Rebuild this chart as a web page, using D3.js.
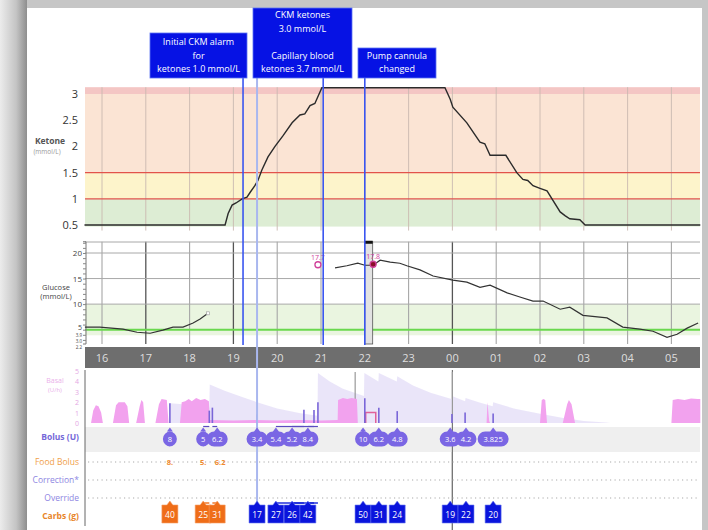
<!DOCTYPE html>
<html lang="en">
<head>
<meta charset="UTF-8">
<title>CKM ketone and glucose report</title>
<script src="https://d3js.org/d3.v7.min.js"></script>
<style>
  body { margin: 0; background: #fff; }
  svg { display: block; font-family: "Open Sans", "Liberation Sans", sans-serif; }
</style>
</head>
<body>
<svg id="chart" width="708" height="530"></svg>
<script>
// ---- data (times are hours from midnight of day 1; 24+ = next day) ----
const hourTicks = [16, 17, 18, 19, 20, 21, 22, 23, 24, 25, 26, 27, 28, 29];

const ketoneTicks = [0.5, 1, 1.5, 2, 2.5, 3];
const ketoneTimes = [15.6, 18.81, 18.88, 18.97, 19.06, 19.2, 19.31, 19.38, 19.49, 19.56, 19.65, 19.79, 19.95, 20.13, 20.34, 20.52, 20.63, 20.75, 20.86, 21.02,
  23.83, 23.95, 24.01, 24.33, 24.63, 24.74, 24.86, 25.22, 25.47, 25.61, 25.72, 25.84, 26.0, 26.16, 26.46, 26.57, 26.68, 26.91, 27.03, 29.66];
const ketoneValues = [0.5, 0.5, 0.72, 0.88, 0.92, 1.0, 1.03, 1.12, 1.25, 1.35, 1.55, 1.8, 2.0, 2.2, 2.45, 2.6, 2.62, 2.78, 2.82, 3.12,
  3.12, 2.9, 2.75, 2.45, 2.08, 2.05, 1.83, 1.83, 1.5, 1.37, 1.35, 1.25, 1.2, 1.15, 0.75, 0.68, 0.62, 0.6, 0.5, 0.5];

const glucoseMainTicks = [20, 15, 10, 5];
const glucoseLowTicks = ["3.9", "3.0", "2.2"];
const glucoseTimes = [15.61, 15.95, 16.48, 16.8, 17.1, 17.39, 17.62, 17.85, 18.08, 18.24, 18.42, 18.43,
  21.32, 21.59, 21.84, 22.0, 22.19, 22.35, 22.58, 22.8, 22.96, 23.26, 23.56, 24.01, 24.33, 24.63, 24.86, 25.25, 25.54,
  25.84, 26.07, 26.46, 26.68, 26.98, 27.53, 27.89, 28.28, 28.58, 28.9, 29.13, 29.36, 29.61];
const glucoseValues = [5.5, 5.5, 5.1, 4.5, 4.3, 4.9, 5.5, 5.5, 6.3, 7.1, 8.2, null,
  17.1, 17.5, 18.0, 17.6, 17.6, 18.6, 18.2, 18.0, 17.5, 16.7, 15.5, 14.7, 14.3, 13.3, 13.7, 12.2, 11.4,
  10.6, 10.6, 9.0, 9.4, 7.8, 7.3, 5.5, 5.1, 4.7, 3.5, 4.1, 5.3, 6.3];
const fingerstickTimes = [20.93, 22.19];
const fingerstickValues = [17.7, 17.8];
const darkHourLines = [17, 19, 24];

const basalTicks = [0, 1, 2, 3, 4, 5];
const basalTimes = [15.75, 15.8, 15.86, 15.92, 15.98, 16.02, 16.25, 16.32, 16.38, 16.52, 16.58, 16.62,
  16.78, 16.86, 16.9, 16.94, 16.98, 17.22, 17.3, 17.36, 17.48, 17.52, 17.78, 17.82, 17.9, 17.98, 18.05, 18.15, 18.25, 18.35, 18.44,
  18.46, 19.0, 19.5, 20.0, 20.5, 21.0, 21.38, 21.39, 21.5, 21.6, 21.7, 21.82, 21.84, 24.78, 24.8, 24.84, 24.86,
  26.0, 26.04, 26.08, 26.12, 26.16, 26.52, 26.62, 26.66, 26.72, 26.8, 29.0, 29.03, 29.15, 29.3, 29.45, 29.6, 29.66];
const basalRates = [0, 1.2, 1.7, 1.6, 1.0, 0, 0, 1.7, 2.0, 2.0, 1.6, 0,
  0, 1.6, 2.2, 2.0, 0, 0, 1.8, 2.3, 2.2, 0, 0, 2.0, 2.1, 2.3, 2.1, 2.4, 2.2, 2.3, 2.1,
  0.3, 0.25, 0.3, 0.25, 0.3, 0.25, 0.3, 2.2, 2.4, 2.3, 2.4, 2.3, 0, 0, 2.0, 0.2, 0,
  0, 2.2, 2.3, 2.2, 0, 0, 1.8, 2.2, 1.8, 0, 0, 2.2, 2.3, 2.2, 2.35, 2.3, 2.3];
const tempBasal = { start: 22.02, end: 22.25, rate: 1.0 };
const iobTimes = [17.55, 17.55, 18.0, 18.45, 18.46, 18.8, 19.2, 19.54, 20.0, 20.5, 20.92, 20.93, 21.2, 21.5, 21.98, 21.99,
  22.31, 22.32, 22.73, 22.74, 23.1, 23.5, 23.98, 23.99, 24.29, 24.3, 24.6, 24.92, 24.93, 25.4, 26.0, 26.5, 27.0, 27.5, 27.6];
const iobValues = [0, 1.9, 1.75, 1.5, 3.7, 3.1, 2.5, 2.0, 1.4, 0.95, 0.7, 4.8, 4.0, 3.3, 2.6, 4.8,
  4.0, 4.8, 4.0, 4.5, 3.6, 2.9, 2.3, 2.6, 2.1, 2.4, 2.0, 1.6, 2.0, 1.4, 0.9, 0.5, 0.2, 0.05, 0];
const basalEventLines = [21.78, 24];

const bolusUnits = [8, 5, 6.2, 3.4, 5.4, 5.2, 8.4, 10, 6.2, 4.8, 3.6, 4.2, 3.825];
const bolusEntryTimes = [17.55, 18.31, 18.63, 19.54, 19.97, 20.34, 20.7, 21.96, 22.32, 22.74, 23.95, 24.31, 24.93];
const bolusDeliveryTimes = [17.55, 18.45, 18.52, 19.54, 20.61, 20.84, 20.93, 22.0, 22.32, 22.74, 23.99, 24.29, 24.93];
const carbGrams = [40, 25, 31, 17, 27, 26, 42, 50, 31, 24, 19, 22, 20];
const carbIsFoodBolus = [true, true, true, false, false, false, false, false, false, false, false, false, false];
const foodBolusLabels = ["8.", "5.", "6.2"];

const annotations = [
  { time: 19.22, lines: ["Initial CKM alarm", "for", "ketones 1.0 mmol/L"], color: "#3a55f0" },
  { time: 21.05, lines: ["CKM ketones", "3.0 mmol/L", "", "Capillary blood", "ketones 3.7 mmol/L"], color: "#3a55f0" },
  { time: 22.0, lines: ["Pump cannula", "changed"], color: "#3a55f0" }
];
const capillaryTime = 19.54;

// ---- layout ----
const svg = d3.select("#chart");
const left = 85, right = 700;

const x = d3.scaleLinear().domain([16, 29]).range([102, 671.4]);
const yK = d3.scaleLinear().domain([0.5, 3]).range([225, 94]);
const yG = d3.scaleLinear().domain([2.2, 20]).range([344, 253]);
const yB = d3.scaleLinear().domain([0, 5]).range([423, 371]);

// screenshot frame
const defs = svg.append("defs");
const lg = defs.append("linearGradient").attr("id", "leftEdge");
lg.append("stop").attr("offset", "0%").attr("stop-color", "#ececec");
lg.append("stop").attr("offset", "60%").attr("stop-color", "#c4c4c4");
lg.append("stop").attr("offset", "100%").attr("stop-color", "#8e8e8e");
svg.append("rect").attr("width", 708).attr("height", 530).attr("fill", "#c6c6c6");
svg.append("rect").attr("width", 27).attr("height", 530).attr("fill", "url(#leftEdge)");
svg.append("rect").attr("x", 27).attr("y", 8).attr("width", 675).attr("height", 522).attr("fill", "#fff");

// ---- ketone panel ----
const kTop = 3.13, kBot = 0.47;
const kBands = [
  { from: 3.0, to: kTop, color: "#f4c6c4" },
  { from: 1.5, to: 3.0, color: "#fbe4d4" },
  { from: 1.0, to: 1.5, color: "#fdf4cb" },
  { from: kBot, to: 1.0, color: "#ddedd4" }
];
svg.selectAll(".kband").data(kBands).enter().append("rect")
  .attr("x", left).attr("width", right - left)
  .attr("y", d => yK(d.to)).attr("height", d => yK(d.from) - yK(d.to))
  .attr("fill", d => d.color);
svg.selectAll(".kgrid").data(hourTicks).enter().append("line")
  .attr("x1", d => x(d)).attr("x2", d => x(d))
  .attr("y1", yK(kTop)).attr("y2", yK(kBot) + 4)
  .attr("stroke", "#c9b9b0").attr("stroke-width", 0.9);
svg.selectAll(".kred").data([1.5, 1.0]).enter().append("line")
  .attr("x1", left).attr("x2", right)
  .attr("y1", d => yK(d)).attr("y2", d => yK(d))
  .attr("stroke", "#e2534b").attr("stroke-width", 1.3);
svg.selectAll(".ktick").data(ketoneTicks).enter().append("text")
  .attr("x", 78).attr("y", d => yK(d) + 4)
  .attr("text-anchor", "end").attr("font-size", 11).attr("fill", "#333")
  .text(d => d);
svg.append("text").attr("x", 50).attr("y", 144).attr("text-anchor", "middle")
  .attr("font-size", 8.5).attr("font-weight", "bold").attr("fill", "#555").text("Ketone");
svg.append("text").attr("x", 47).attr("y", 154).attr("text-anchor", "middle")
  .attr("font-size", 6.5).attr("fill", "#999").text("(mmol/L)");
svg.append("path")
  .datum(ketoneTimes.map((t, i) => [t, ketoneValues[i]]))
  .attr("fill", "none").attr("stroke", "#2b2b2b").attr("stroke-width", 1.4)
  .attr("d", d3.line().x(d => x(d[0])).y(d => yK(d[1])));

// ---- glucose panel ----
const gTop = 22.2;
svg.append("rect").attr("x", left).attr("width", right - left)
  .attr("y", yG(10)).attr("height", yG(3.9) - yG(10)).attr("fill", "#eaf5e0");
svg.selectAll(".ggrid").data(hourTicks).enter().append("line")
  .attr("x1", d => x(d)).attr("x2", d => x(d))
  .attr("y1", yG(gTop)).attr("y2", yG(2.2))
  .attr("stroke", d => darkHourLines.includes(d) ? "#555" : "#a6a6a6")
  .attr("stroke-width", d => darkHourLines.includes(d) ? 1.3 : 1.1);
svg.selectAll(".ghl").data([gTop - 0.05, 20, 15, 10]).enter().append("line")
  .attr("x1", left).attr("x2", right)
  .attr("y1", d => yG(d)).attr("y2", d => yG(d))
  .attr("stroke", "#a8a8a8").attr("stroke-width", 1);
svg.append("line").attr("x1", left).attr("x2", right)
  .attr("y1", yG(5)).attr("y2", yG(5))
  .attr("stroke", "#6ad84e").attr("stroke-width", 2);
// axis with minor ticks
const gAxis = d3.axisLeft(yG).tickValues(d3.range(3, 23, 1)).tickSize(3).tickFormat("");
svg.append("g").attr("transform", `translate(${left + 1},0)`).call(gAxis)
  .call(g => g.select(".domain").attr("stroke", "#777").attr("d", `M-3,${yG(gTop)}H0V${yG(2.2)}H-3`))
  .call(g => g.selectAll(".tick line").attr("stroke", "#888"));
svg.selectAll(".gtick").data(glucoseMainTicks).enter().append("text")
  .attr("x", 82).attr("y", d => yG(d) + (d === 5 ? 0.5 : 3))
  .attr("text-anchor", "end").attr("font-size", d => d === 5 ? 7 : 8).attr("fill", "#444")
  .text(d => d);
// the low thresholds are packed tightly under "5", as in the source report
svg.selectAll(".glow").data(glucoseLowTicks).enter().append("text")
  .attr("x", 82).attr("y", (d, i) => 336.8 + i * 6.3)
  .attr("text-anchor", "end").attr("font-size", 4.5).attr("fill", "#444")
  .text(d => d);
svg.append("text").attr("x", 56).attr("y", 290).attr("text-anchor", "middle")
  .attr("font-size", 7.5).attr("fill", "#444").text("Glucose");
svg.append("text").attr("x", 56).attr("y", 299).attr("text-anchor", "middle")
  .attr("font-size", 7.5).attr("fill", "#444").text("(mmol/L)");
// pump cannula marker
svg.append("rect").attr("x", x(22.0)).attr("width", x(22.18) - x(22.0))
  .attr("y", yG(gTop)).attr("height", yG(2.2) - yG(gTop))
  .attr("fill", "#e2e2e2").attr("stroke", "#555").attr("stroke-width", 0.8);
svg.append("rect").attr("x", x(22.0)).attr("width", x(22.18) - x(22.0))
  .attr("y", yG(gTop) - 1).attr("height", 3).attr("fill", "#111");
svg.append("path")
  .datum(glucoseTimes.map((t, i) => [t, glucoseValues[i]]))
  .attr("fill", "none").attr("stroke", "#333").attr("stroke-width", 1.2)
  .attr("d", d3.line().defined(d => d[1] !== null).x(d => x(d[0])).y(d => yG(d[1])));
svg.append("rect").attr("x", x(18.42) - 1.5).attr("y", yG(8.2) - 1.5).attr("width", 3).attr("height", 3)
  .attr("fill", "#fff").attr("stroke", "#999").attr("stroke-width", 0.6);
fingerstickTimes.forEach((t, i) => {
  svg.append("circle").attr("cx", x(t)).attr("cy", yG(fingerstickValues[i])).attr("r", 3)
    .attr("fill", i === 0 ? "#fff" : "#8a0f2a").attr("stroke", "#d0409a").attr("stroke-width", 1.3);
  svg.append("text").attr("x", x(t)).attr("y", yG(fingerstickValues[i]) - 5)
    .attr("text-anchor", "middle").attr("font-size", 7).attr("fill", "#d0409a")
    .text(fingerstickValues[i]);
});

// ---- day/event line through lower rows ----
svg.append("line").attr("x1", x(24)).attr("x2", x(24)).attr("y1", 370).attr("y2", 530)
  .attr("stroke", "#777").attr("stroke-width", 1.2);

// ---- hour band ----
svg.append("rect").attr("x", left).attr("y", 347).attr("width", right - left).attr("height", 21).attr("fill", "#6e6e6e");
svg.selectAll(".hlabel").data(hourTicks).enter().append("text")
  .attr("x", d => x(d)).attr("y", 362)
  .attr("text-anchor", "middle").attr("font-size", 11).attr("fill", "#dedede")
  .text(d => String(d % 24).padStart(2, "0"));

// ---- basal panel ----
svg.append("path")
  .datum(iobTimes.map((t, i) => [t, iobValues[i]]))
  .attr("fill", "#e9e4f9").attr("opacity", 0.95)
  .attr("d", d3.area().x(d => x(d[0])).y0(yB(0)).y1(d => yB(d[1])));
svg.selectAll(".bev").data(basalEventLines).enter().append("line")
  .attr("x1", d => x(d)).attr("x2", d => x(d)).attr("y1", 372).attr("y2", d => d === 24 ? 423 : 410)
  .attr("stroke", "#999").attr("stroke-width", 1.2);
svg.append("path")
  .datum(basalTimes.map((t, i) => [t, basalRates[i]]))
  .attr("fill", "#f2a2ee")
  .attr("d", d3.area().x(d => x(d[0])).y0(yB(0)).y1(d => yB(d[1])));
svg.append("path")
  .attr("d", `M${x(tempBasal.start)},${yB(0)}V${yB(tempBasal.rate)}H${x(tempBasal.end)}V${yB(0)}`)
  .attr("fill", "none").attr("stroke", "#e0609a").attr("stroke-width", 1.5);
svg.selectAll(".bbar").data(bolusUnits).enter().append("line")
  .attr("x1", (d, i) => x(bolusDeliveryTimes[i])).attr("x2", (d, i) => x(bolusDeliveryTimes[i]))
  .attr("y1", yB(0)).attr("y2", d => yB(d / 4.2))
  .attr("stroke", "#7a66d8").attr("stroke-width", 1.6);
svg.selectAll(".btick").data(basalTicks).enter().append("text")
  .attr("x", 79).attr("y", d => yB(d) + 3)
  .attr("text-anchor", "end").attr("font-size", 7).attr("fill", "#e4a8e4")
  .text(d => d);
svg.append("text").attr("x", 55).attr("y", 383).attr("text-anchor", "middle")
  .attr("font-size", 7).attr("fill", "#eab0ea").text("Basal");
svg.append("text").attr("x", 55).attr("y", 392).attr("text-anchor", "middle")
  .attr("font-size", 6).attr("fill", "#eab0ea").text("(U/h)");

// ---- bolus / rows ----
svg.append("rect").attr("x", left).attr("y", 427).attr("width", right - left).attr("height", 25).attr("fill", "#efefef");
svg.append("line").attr("x1", x(24)).attr("x2", x(24)).attr("y1", 427).attr("y2", 530)
  .attr("stroke", "#777").attr("stroke-width", 1.2);

// capillary blood line (light) and annotation lines
svg.append("line").attr("x1", x(capillaryTime)).attr("x2", x(capillaryTime)).attr("y1", 78).attr("y2", 505)
  .attr("stroke", "#a9b7ef").attr("stroke-width", 2);

const rowLabels = [
  { y: 440, text: "Bolus (U)", color: "#7569d8", bold: true },
  { y: 465, text: "Food Bolus", color: "#f0a04a", bold: false },
  { y: 483, text: "Correction*", color: "#8e86e2", bold: false },
  { y: 501, text: "Override", color: "#8e86e2", bold: false },
  { y: 519, text: "Carbs (g)", color: "#e8862a", bold: true }
];
svg.selectAll(".rlabel").data(rowLabels).enter().append("text")
  .attr("x", 79).attr("y", d => d.y).attr("text-anchor", "end")
  .attr("font-size", 8.5).attr("font-weight", d => d.bold ? "bold" : "normal")
  .attr("fill", d => d.color).text(d => d.text);
svg.selectAll(".dots").data([462, 480, 498]).enter().append("line")
  .attr("x1", 88).attr("x2", right).attr("y1", d => d).attr("y2", d => d)
  .attr("stroke", "#aaa").attr("stroke-width", 1.1).attr("stroke-dasharray", "1.2,3.3");
svg.append("line").attr("x1", left).attr("x2", left).attr("y1", 370).attr("y2", 526)
  .attr("stroke", "#666").attr("stroke-width", 1);

// connectors from entry to delivery
bolusUnits.forEach((u, i) => {
  if (Math.abs(bolusEntryTimes[i] - bolusDeliveryTimes[i]) > 0.05) {
    svg.append("line").attr("x1", x(bolusEntryTimes[i])).attr("x2", x(bolusDeliveryTimes[i]))
      .attr("y1", 426.5).attr("y2", 426.5).attr("stroke", "#5a4cc0").attr("stroke-width", 1.2);
    svg.append("line").attr("x1", x(bolusEntryTimes[i])).attr("x2", x(bolusDeliveryTimes[i]))
      .attr("y1", 503).attr("y2", 503).attr("stroke", carbIsFoodBolus[i] ? "#ef6d18" : "#1020d8").attr("stroke-width", 1.4);
  }
});

// bolus bubbles
const bub = svg.selectAll(".bub").data(bolusUnits).enter().append("g")
  .attr("transform", (d, i) => `translate(${x(bolusEntryTimes[i])},439)`);
bub.append("path").attr("d", d => {
  const w = Math.max(14, String(d).length * 5 + 6), h = 15, r = 7.5;
  return `M${-w / 2 + r},${-h / 2}L-3,${-h / 2}L0,${-h / 2 - 4}L3,${-h / 2}L${w / 2 - r},${-h / 2}` +
    `A${r},${r} 0 0 1 ${w / 2 - r},${h / 2}L${-w / 2 + r},${h / 2}A${r},${r} 0 0 1 ${-w / 2 + r},${-h / 2}Z`;
}).attr("fill", "#7a66e4");
bub.append("text").attr("y", 3).attr("text-anchor", "middle").attr("font-size", 7.5)
  .attr("fill", "#fff").text(d => d);

// food bolus labels
svg.selectAll(".fb").data(foodBolusLabels).enter().append("text")
  .attr("x", (d, i) => x(bolusEntryTimes[i]) + (i === 2 ? 3 : 0)).attr("y", 465)
  .attr("text-anchor", "middle").attr("font-size", 7.5).attr("font-weight", "bold")
  .attr("fill", "#f08a30").text(d => d);

// carbs boxes
const cb = svg.selectAll(".carb").data(carbGrams).enter().append("g")
  .attr("transform", (d, i) => `translate(${x(bolusEntryTimes[i])},505)`);
cb.append("path").attr("d", "M-8,0H-3L0,-4L3,0H8V18H-8Z")
  .attr("fill", (d, i) => carbIsFoodBolus[i] ? "#ef6d18" : "#0a14dc")
  .attr("stroke", (d, i) => carbIsFoodBolus[i] ? "#f7a066" : "#6a78f0").attr("stroke-width", 0.6);
cb.append("text").attr("y", 12.5).attr("text-anchor", "middle").attr("font-size", 8.5)
  .attr("fill", "#fff").text(d => d);

// ---- annotation boxes ----
const boxLayout = [
  { x0: 150, x1: 247, y0: 33 },
  { x0: 253, x1: 352, y0: 8 },
  { x0: 358, x1: 436, y0: 48 }
];
annotations.forEach((a, i) => {
  const b = boxLayout[i];
  svg.append("line").attr("x1", x(a.time)).attr("x2", x(a.time)).attr("y1", 78).attr("y2", 345)
    .attr("stroke", a.color).attr("stroke-width", 1.6);
  svg.append("rect").attr("x", b.x0).attr("y", b.y0).attr("width", b.x1 - b.x0).attr("height", 78 - b.y0)
    .attr("fill", "#0612e4").attr("stroke", "#5c74f2").attr("stroke-width", 0.8);
  const n = a.lines.length;
  a.lines.forEach((t, k) => {
    svg.append("text").attr("x", (b.x0 + b.x1) / 2).attr("y", 78 - 6 - (n - 1 - k) * 13.5)
      .attr("text-anchor", "middle").attr("font-size", 9).attr("fill", "#fff").text(t);
  });
});
</script>
</body>
</html>
